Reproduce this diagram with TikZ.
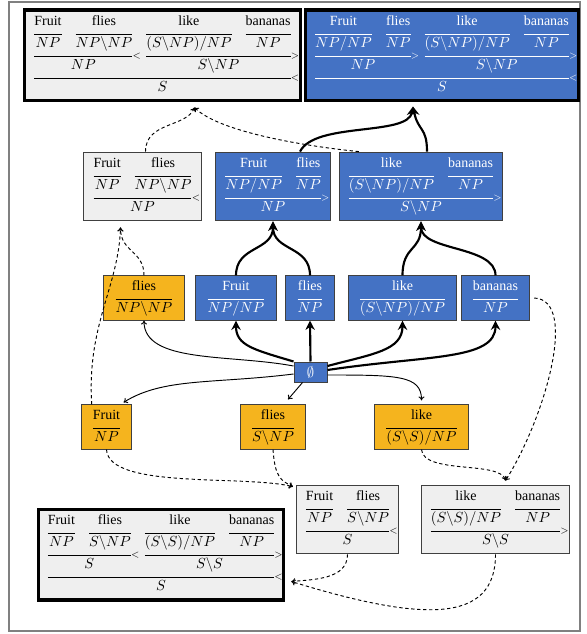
\documentclass[tikz,border=0pt]{standalone}
\usepackage{fontspec}
\setmainfont{Liberation Serif}
\usetikzlibrary{arrows.meta,calc}
\definecolor{cblue}{HTML}{4472C4}
\definecolor{corange}{HTML}{F5B41E}
\definecolor{cgray}{HTML}{EFEFEF}
\definecolor{cedge}{HTML}{404040}
\definecolor{cframe}{HTML}{808080}
\setlength\tabcolsep{5.25pt}
\newcommand\bs{\backslash}
\newcommand\ccghr{\leavevmode\leaders\hrule height 0.6pt\hfill\kern0pt}
\newcommand\ccgf{\ccghr\rlap{\kern0.2pt\raisebox{-1.55pt}{\scriptsize$>$}}}
\newcommand\ccgb{\ccghr\rlap{\kern0.2pt\raisebox{-1.55pt}{\scriptsize$<$}}}
\newcommand\NLt{\\[-5.85pt]}
\newcommand\NLr{\\[-2.85pt]}
\newcommand\mc[2]{\multicolumn{#1}{c}{#2}}
\newcommand\lexent[2]{\begin{tabular}{c}#1\NLt\ccghr\NLr$#2$\end{tabular}}
\tikzset{
  dbox/.style={rectangle, inner xsep=1.9pt, inner ysep=3pt, font=\fontsize{10.5}{12.6}\selectfont, line width=0.75pt},
  gbox/.style={dbox, fill=cgray, draw=cedge},
  bbox/.style={dbox, fill=cblue, draw=cedge, text=white},
  lexo/.style={dbox, inner xsep=3.5pt, inner ysep=2pt, fill=corange, draw=cedge},
  lexb/.style={dbox, inner xsep=3.5pt, inner ysep=2pt, fill=cblue, draw=cedge, text=white},
  heavy/.style={line width=2.4pt, draw=black},
  thk/.style={line width=1.6pt, -{Stealth[length=7pt,width=7pt]}},
  thn/.style={line width=0.7pt, -{To[length=3pt,width=4.5pt]}},
  dsh/.style={line width=0.7pt, dash pattern=on 2.5pt off 2pt, -{To[length=3pt,width=4.5pt]}},
}
\begin{document}
\begin{tikzpicture}[x=0.75pt,y=-0.75pt]
\useasboundingbox (0,0) rectangle (586,634);
\fill[white] (0,0) rectangle (586,634);
\draw[cframe, line width=0.8pt] (9,2) rectangle (580,631);

% top row
\node[gbox, heavy] (TL) at (162.5,55.5) {\begin{tabular}{cccc}
Fruit & flies & like & bananas\NLt
\ccghr & \ccghr & \ccghr & \ccghr\NLr
$NP$ & $NP\bs NP$ & $(S\bs NP)/NP$ & $NP$\NLt
\mc2{\ccgb} & \mc2{\ccgf}\NLr
\mc2{$NP$} & \mc2{$S\bs NP$}\NLt
\mc4{\ccgb}\NLr
\mc4{$S$}
\end{tabular}};
\node[bbox, heavy] (TR) at (442,55.5) {\begin{tabular}{cccc}
Fruit & flies & like & bananas\NLt
\ccghr & \ccghr & \ccghr & \ccghr\NLr
$NP/NP$ & $NP$ & $(S\bs NP)/NP$ & $NP$\NLt
\mc2{\ccgf} & \mc2{\ccgf}\NLr
\mc2{$NP$} & \mc2{$S\bs NP$}\NLt
\mc4{\ccgb}\NLr
\mc4{$S$}
\end{tabular}};

% second row
\node[gbox] (G2) at (142.5,186.5) {\begin{tabular}{cc}
Fruit & flies\NLt
\ccghr & \ccghr\NLr
$NP$ & $NP\bs NP$\NLt
\mc2{\ccgb}\NLr
\mc2{$NP$}
\end{tabular}};
\node[bbox] (B2a) at (273,186.5) {\begin{tabular}{cc}
Fruit & flies\NLt
\ccghr & \ccghr\NLr
$NP/NP$ & $NP$\NLt
\mc2{\ccgf}\NLr
\mc2{$NP$}
\end{tabular}};
\node[bbox] (B2b) at (421,186.5) {\begin{tabular}{cc}
like & bananas\NLt
\ccghr & \ccghr\NLr
$(S\bs NP)/NP$ & $NP$\NLt
\mc2{\ccgf}\NLr
\mc2{$S\bs NP$}
\end{tabular}};

% lexical row
\node[lexo] (O3) at (144,298) {\lexent{flies}{NP\bs NP}};
\node[lexb] (B3a) at (236,298) {\lexent{Fruit}{NP/NP}};
\node[lexb] (B3b) at (310,298) {\lexent{flies}{NP}};
\node[lexb] (B3c) at (402.5,298) {\lexent{like}{(S\bs NP)/NP}};
\node[lexb] (B3d) at (495.5,298) {\lexent{bananas}{NP}};

% empty set
\node[bbox, inner sep=0pt, minimum width=24.75pt, minimum height=15pt] (E) at (310.5,372) {$\emptyset$};

% orange row
\node[lexo] (O4a) at (106.5,427) {\lexent{Fruit}{NP}};
\node[lexo] (O4b) at (273,427) {\lexent{flies}{S\bs NP}};
\node[lexo] (O4c) at (421.5,427) {\lexent{like}{(S\bs S)/NP}};

% bottom row
\node[gbox] (G5a) at (347.5,519.5) {\begin{tabular}{cc}
Fruit & flies\NLt
\ccghr & \ccghr\NLr
$NP$ & $S\bs NP$\NLt
\mc2{\ccgb}\NLr
\mc2{$S$}
\end{tabular}};
\node[gbox] (G5b) at (495.5,519.5) {\begin{tabular}{cc}
like & bananas\NLt
\ccghr & \ccghr\NLr
$(S\bs S)/NP$ & $NP$\NLt
\mc2{\ccgf}\NLr
\mc2{$S\bs S$}
\end{tabular}};
\node[gbox, heavy] (BL) at (161,554.5) {\begin{tabular}{cccc}
Fruit & flies & like & bananas\NLt
\ccghr & \ccghr & \ccghr & \ccghr\NLr
$NP$ & $S\bs NP$ & $(S\bs S)/NP$ & $NP$\NLt
\mc2{\ccgb} & \mc2{\ccgf}\NLr
\mc2{$S$} & \mc2{$S\bs S$}\NLt
\mc4{\ccgb}\NLr
\mc4{$S$}
\end{tabular}};

% connectors from the empty set
\draw[thk] (E.north) -- (B3b.south);
\draw[thk] (E.north west) .. controls +(-40,-12) and +(0,25) .. (B3a.south);
\draw[thk] ($(E.east)+(0,-6)$) .. controls +(45,-12) and +(0,30) .. (B3c.south);
\draw[thk] ($(E.east)+(0,-2)$) .. controls +(100,-15) and +(0,40) .. (B3d.south);
\draw[thn] ($(E.west)+(0,-6)$) .. controls +(-64,-12) and +(0,43) .. (O3.south);
\draw[thn] ($(E.west)+(0,2)$) .. controls +(-80,10) and +(40,-25) .. ($(O4a.north)+(17,-2)$);
\draw[thn] ($(E.south)+(-8,0)$) -- ($(O4b.north)+(15,-5)$);
\draw[thn] ($(E.east)+(0,3)$) .. controls +(70,0) and +(0,-25) .. ($(O4c.north)+(0,-4)$);

% lexical to second row
\draw[thk] (B3a.north) .. controls +(0,-30) and +(0,30) .. (B2a.south);
\draw[thk] (B3b.north) .. controls +(0,-30) and +(0,30) .. (B2a.south);
\draw[thk] (B3c.north) .. controls +(0,-30) and +(0,30) .. (B2b.south);
\draw[thk] (B3d.north) .. controls +(0,-30) and +(0,30) .. (B2b.south);

% second row to top
\coordinate (tTR) at ($(TR.south)+(-29,4)$);
\draw[thk] ($(B2a.north)+(27,0)$) .. controls +(15,-30) and +(-5,30) .. (tTR);
\draw[thk] ($(B2b.north)+(6,0)$) .. controls +(0,-25) and +(5,25) .. (tTR);
\coordinate (tTL) at ($(TL.south)+(32,5)$);
\draw[dsh] ($(G2.north)+(3,0)$) .. controls +(0,-30) and +(-8,20) .. (tTL);
\draw[dsh] ($(B2b.north west)+(20,0)$) .. controls +(-50,-5) and +(25,25) .. (tTL);

% orange into gray second row
\coordinate (tG2) at ($(G2.south)+(-22,6)$);
\draw[dsh] (O3.north) .. controls +(0,-25) and +(0,25) .. (tG2);
\draw[dsh] ($(O4a.north west)+(11,0)$) .. controls +(-5,-80) and +(-2,60) .. (tG2);

% into bottom gray boxes
\coordinate (tG5a) at ($(G5a.north west)+(-3,2)$);
\draw[dsh] (O4a.south) .. controls +(2,40) and +(-50,-12) .. (tG5a);
\draw[dsh] (O4b.south) .. controls +(2,28) and +(-12,-6) .. (tG5a);
\coordinate (tG5b) at ($(G5b.north)+(10,-4)$);
\draw[dsh] (O4c.south) .. controls +(2,25) and +(-5,-20) .. (tG5b);
\draw[dsh] ($(B3d.east)+(4,0)$) .. controls +(45,2) and +(39,-62) .. (tG5b);

% into bottom-left
\coordinate (tBL) at ($(BL.south east)+(6,-20)$);
\draw[dsh] (G5a.south) .. controls +(0,25) and +(22,-2) .. (tBL);
\draw[dsh] (G5b.south) .. controls +(0,70) and +(130,40) .. (tBL);
\end{tikzpicture}
\end{document}
